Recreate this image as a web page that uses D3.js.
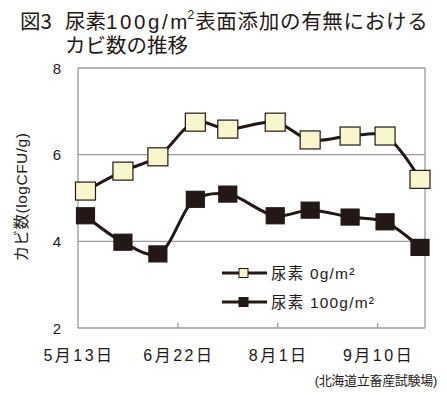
<!DOCTYPE html>
<html lang="ja">
<head>
  <meta charset="UTF-8">
  <title>カビ数の推移</title>
  <script src="https://cdn.jsdelivr.net/npm/d3@7"></script>
  <style>
    body { margin: 0; background: #fff; }
    text { font-family: "Liberation Sans", "Noto Sans CJK JP", sans-serif; fill: #231815; }
    .jp { font-family: "Noto Sans CJK JP", sans-serif; }
    .grid line { stroke: #9a9a9a; stroke-width: 1.3; }
  </style>
</head>
<body>
  <svg width="447" height="395"></svg>
  <script>
    // sampling dates and log counts
    const dates = ['2000-05-16', '2000-05-31', '2000-06-14', '2000-06-29', '2000-07-12',
      '2000-07-31', '2000-08-14', '2000-08-30', '2000-09-13', '2000-09-27'];
    const urea0 = [5.16, 5.62, 5.95, 6.75, 6.59, 6.75, 6.34, 6.43, 6.43, 5.43];
    const urea100 = [4.59, 3.98, 3.71, 4.97, 5.09, 4.59, 4.72, 4.56, 4.45, 3.86];
    const tickDates = ['2000-05-13', '2000-06-22', '2000-08-01', '2000-09-10'];
    const tickLabels = ['5月13日', '6月22日', '8月1日', '9月10日'];
    const yTicks = [2, 4, 6, 8];
    const seriesNames = ['尿素 0g/m²', '尿素 100g/m²'];

    const parse = d3.timeParse('%Y-%m-%d');
    const svg = d3.select('svg');
    const dark = '#231815';
    const m = { left: 78, right: 425, top: 68, bottom: 328 };

    const x = d3.scaleTime()
      .domain([parse('2000-05-13'), parse('2000-09-29')])
      .range([m.left, m.right]);
    const y = d3.scaleLinear().domain([2, 8]).range([m.bottom, m.top]);

    // title, two lines in one text element
    const title = svg.append('text').attr('class', 'jp').style('font-size', '20.5px');
    title.append('tspan').attr('x', 20).attr('y', 29).text('図3');
    title.append('tspan').attr('x', 65).text('尿素');
    title.append('tspan').style('font-family', '"Liberation Sans", sans-serif')
      .style('letter-spacing', '2.6px').text('100g/m');
    title.append('tspan').attr('dx', -2.5).attr('dy', -10)
      .style('font-family', '"Liberation Sans", sans-serif')
      .style('font-size', '12px').text('2');
    title.append('tspan').attr('dx', 1).attr('dy', 10)
      .style('letter-spacing', '0.7px').text('表面添加の有無における');
    title.append('tspan').attr('x', 65).attr('y', 53).text('カビ数の推移');

    // grid + frame
    const grid = svg.append('g').attr('class', 'grid');
    grid.selectAll('.h').data(yTicks).enter().append('line')
      .attr('x1', m.left).attr('x2', m.right)
      .attr('y1', d => y(d)).attr('y2', d => y(d));
    grid.append('line').attr('x1', m.left).attr('x2', m.left).attr('y1', m.top).attr('y2', m.bottom);
    grid.append('line').attr('x1', m.right).attr('x2', m.right).attr('y1', m.top).attr('y2', m.bottom);
    grid.selectAll('.t').data(tickDates.slice(1)).enter().append('line')
      .attr('x1', d => x(parse(d))).attr('x2', d => x(parse(d)))
      .attr('y1', m.bottom).attr('y2', m.bottom - 5);

    // axis labels
    svg.selectAll('.yl').data(yTicks).enter().append('text')
      .attr('x', 57).attr('y', d => y(d) + 5.5)
      .attr('text-anchor', 'middle').style('font-size', '15px')
      .text(d => d);
    svg.selectAll('.xl').data(tickDates).enter().append('text')
      .attr('x', d => x(parse(d)) + 1).attr('y', 361)
      .attr('text-anchor', 'middle').style('font-size', '16px')
      .style('letter-spacing', '2.5px')
      .text((d, i) => tickLabels[i]);
    svg.append('text')
      .attr('transform', 'translate(27,197) rotate(-90)')
      .attr('text-anchor', 'middle').style('font-size', '15.5px')
      .style('letter-spacing', '0.5px')
      .text('カビ数(logCFU/g)');
    svg.append('text')
      .attr('x', 437).attr('y', 385).attr('text-anchor', 'end')
      .style('font-size', '13px').style('letter-spacing', '-0.3px')
      .text('(北海道立畜産試験場)');

    const line = d3.line()
      .x((d, i) => x(parse(dates[i])))
      .y(d => y(d))
      .curve(d3.curveCatmullRom.alpha(0.5));

    const series = [
      { vals: urea0, fill: '#f8f6cc', w: 20, h: 18 },
      { vals: urea100, fill: dark, w: 18, h: 16 }
    ];

    series.forEach(s => {
      svg.append('path').attr('d', line(s.vals))
        .attr('fill', 'none').attr('stroke', dark).attr('stroke-width', 3);
      svg.selectAll(null).data(s.vals).enter().append('rect')
        .attr('x', (d, i) => x(parse(dates[i])) - s.w / 2)
        .attr('y', d => y(d) - s.h / 2)
        .attr('width', s.w).attr('height', s.h)
        .attr('fill', s.fill).attr('stroke', dark).attr('stroke-width', 1.2);
    });

    // legend
    const lg = svg.append('g').attr('transform', 'translate(222,273)');
    series.forEach((s, i) => {
      const row = lg.append('g').attr('transform', `translate(0,${i * 29})`);
      row.append('line').attr('x1', 0).attr('x2', 45)
        .attr('stroke', dark).attr('stroke-width', 3);
      row.append('rect').attr('x', 17).attr('y', -4.5).attr('width', 9).attr('height', 9)
        .attr('fill', s.fill).attr('stroke', dark).attr('stroke-width', 1);
      row.append('text').attr('x', 49).attr('y', 5.5)
        .style('font-size', '15.5px').style('letter-spacing', '1.2px')
        .text(seriesNames[i]);
    });
  </script>
</body>
</html>
